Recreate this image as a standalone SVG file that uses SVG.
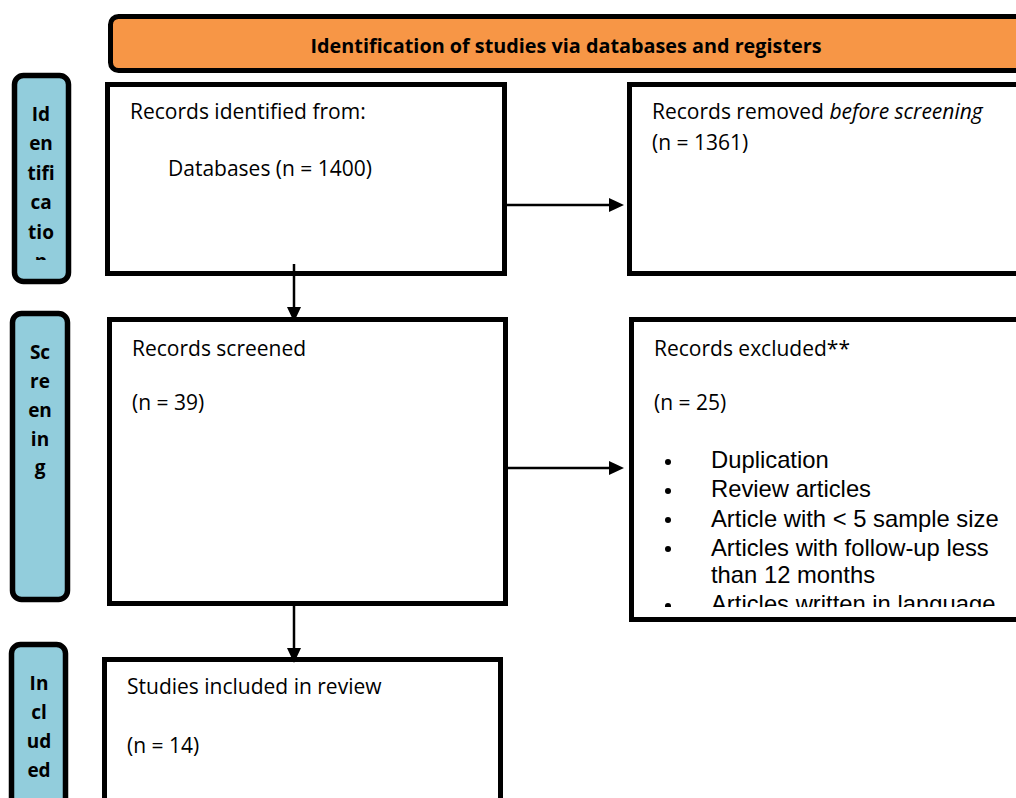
<svg xmlns="http://www.w3.org/2000/svg" width="1016" height="798" viewBox="0 0 1016 798">
<style>
.box{fill:#fff;stroke:#000;stroke-width:5}
.side{fill:#92CDDC;stroke:#000;stroke-width:5.5}
.hdr{fill:#F79646;stroke:#000;stroke-width:5}
.t{font-family:"Open Sans","Noto Sans",sans-serif;font-size:21px;fill:#000}
.b{font-family:"Open Sans","Noto Sans",sans-serif;font-size:19px;font-weight:bold;fill:#000;text-anchor:middle}
.a{font-family:"Liberation Sans",Arial,sans-serif;font-size:23.8px;fill:#000}
.ln{stroke:#000;stroke-width:2.5;fill:none}
</style>
<defs>
<clipPath id="c1"><rect x="14" y="75" width="56" height="185"/></clipPath>
<clipPath id="c4"><rect x="634" y="322" width="400" height="285"/></clipPath>
</defs>
<rect width="1016" height="798" fill="#fff"/>
<g id="header">
<rect class="hdr" x="110.5" y="16.5" width="930" height="54" rx="8"/>
<text class="b" x="566" y="53" textLength="511" lengthAdjust="spacingAndGlyphs">Identification of studies via databases and registers</text>
</g>
<g id="side-identification">
<rect class="side" x="14.5" y="75.5" width="54" height="206" rx="9"/>
<g clip-path="url(#c1)">
<text class="b" x="41" y="121">Id</text>
<text class="b" x="41" y="150">en</text>
<text class="b" x="41" y="180">tifi</text>
<text class="b" x="41" y="209">ca</text>
<text class="b" x="41" y="239">tio</text>
<text class="b" x="41" y="268">n</text>
</g>
</g>
<g id="side-screening">
<rect class="side" x="12.5" y="313.5" width="55" height="286" rx="9"/>
<text class="b" x="40" y="359">Sc</text>
<text class="b" x="40" y="388">re</text>
<text class="b" x="40" y="417">en</text>
<text class="b" x="40" y="446">in</text>
<text class="b" x="40" y="474">g</text>
</g>
<g id="side-included">
<rect class="side" x="11.5" y="644.5" width="54" height="200" rx="9"/>
<text class="b" x="39" y="690">In</text>
<text class="b" x="39" y="719">cl</text>
<text class="b" x="39" y="748">ud</text>
<text class="b" x="39" y="777">ed</text>
</g>
<g id="records-identified">
<rect class="box" x="107.5" y="84.5" width="397" height="189"/>
<text class="t" x="130" y="119">Records identified from:</text>
<text class="t" x="168" y="176">Databases (n = 1400)</text>
</g>
<g id="records-removed">
<rect class="box" x="629.5" y="84.5" width="420" height="189"/>
<text class="t" x="652" y="119">Records removed <tspan font-style="italic">before screening</tspan></text>
<text class="t" x="652" y="150">(n = 1361)</text>
</g>
<g id="records-screened">
<rect class="box" x="109.5" y="319.5" width="396" height="284"/>
<text class="t" x="132" y="356">Records screened</text>
<text class="t" x="132" y="410">(n = 39)</text>
</g>
<g id="records-excluded">
<rect class="box" x="631.5" y="319.5" width="420" height="300"/>
<text class="t" x="654" y="356">Records excluded**</text>
<text class="t" x="654" y="410">(n = 25)</text>
<g clip-path="url(#c4)">
<circle cx="668" cy="462" r="3"/>
<text class="a" x="711" y="468">Duplication</text>
<circle cx="668" cy="491" r="3"/>
<text class="a" x="711" y="497">Review articles</text>
<circle cx="668" cy="520" r="3"/>
<text class="a" x="711" y="527">Article with &lt; 5 sample size</text>
<circle cx="668" cy="549" r="3"/>
<text class="a" x="711" y="556">Articles with follow-up less</text>
<text class="a" x="711" y="583">than 12 months</text>
<circle cx="668" cy="606" r="3"/>
<text class="a" x="711" y="612">Articles written in language</text>
</g>
</g>
<g id="studies-included">
<rect class="box" x="104.5" y="659.5" width="396" height="200"/>
<text class="t" x="127" y="694">Studies included in review</text>
<text class="t" x="127" y="753">(n = 14)</text>
</g>
<g id="connectors">
<line class="ln" x1="507" y1="205" x2="611" y2="205"/>
<polygon points="609,198 624,205 609,212"/>
<line class="ln" x1="294" y1="264" x2="294" y2="309"/>
<polygon points="287,307 294,322 301,307"/>
<line class="ln" x1="508" y1="468" x2="611" y2="468"/>
<polygon points="609,461 624,468 609,475"/>
<line class="ln" x1="294" y1="606" x2="294" y2="650"/>
<polygon points="287,648 294,663 301,648"/>
</g>
</svg>
